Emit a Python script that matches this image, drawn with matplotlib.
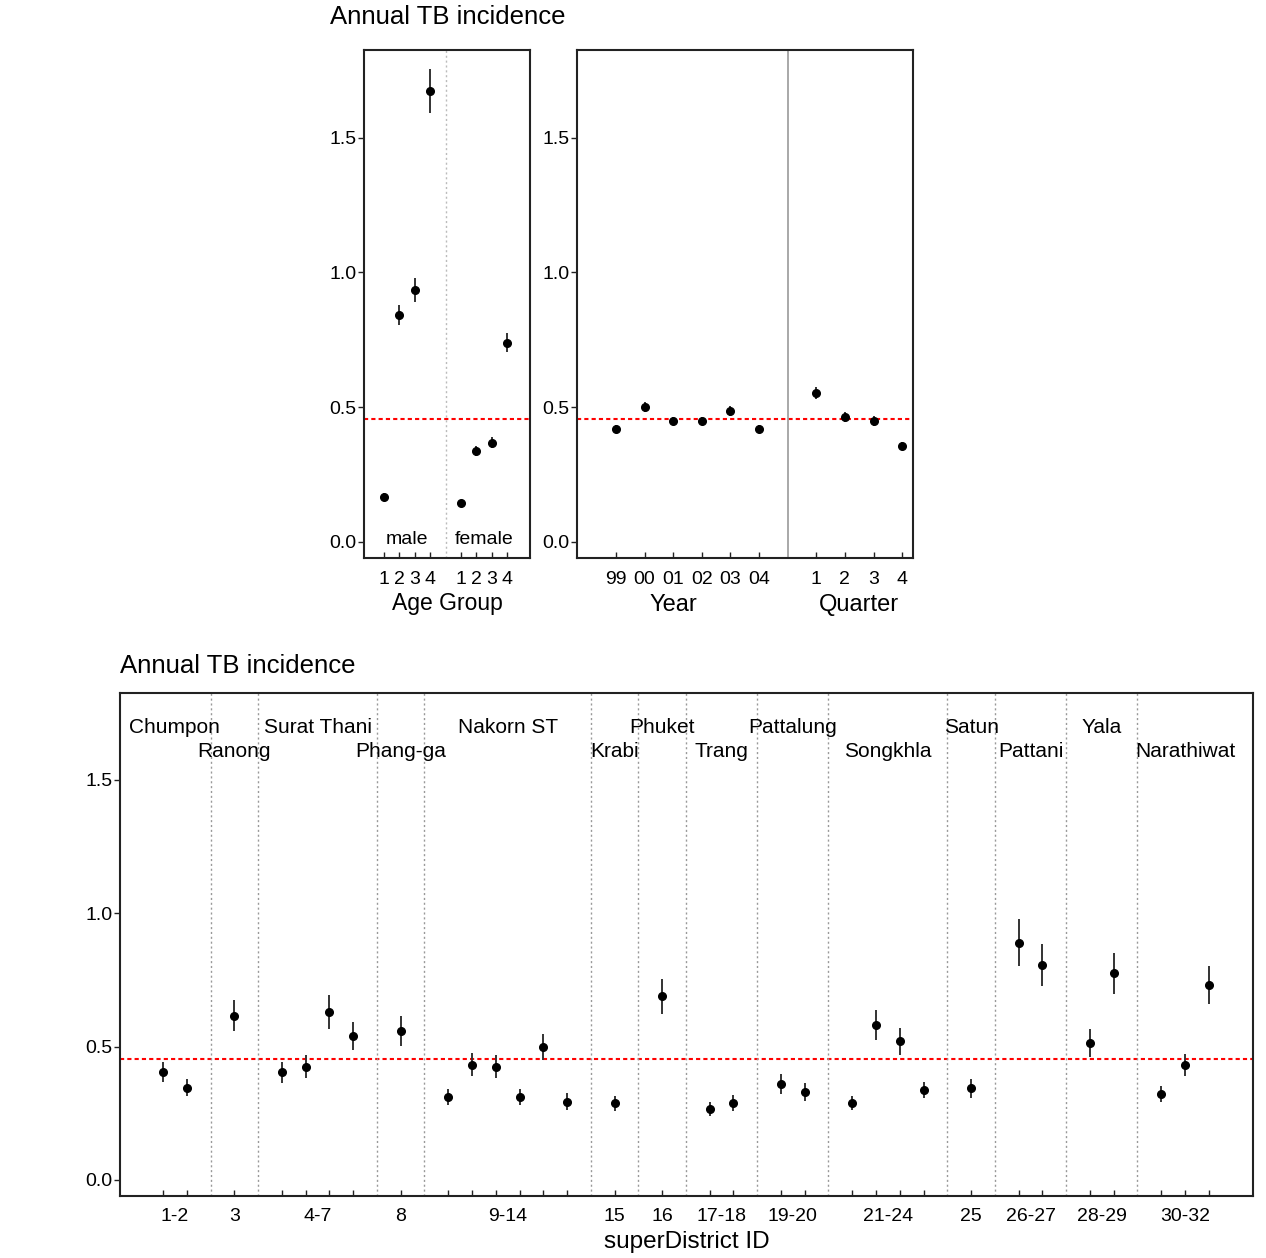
import numpy as np
import matplotlib.pyplot as plt
from matplotlib.transforms import blended_transform_factory

plt.rcParams['font.family'] = ['Liberation Sans', 'DejaVu Sans']
plt.rcParams['font.size'] = 14

# overall incidence (per 1000 per year)
overall = 0.455

# age group by sex
age_labels = ['1', '2', '3', '4']
male_rate = [0.168, 0.843, 0.936, 1.672]
male_err = [0.012, 0.037, 0.045, 0.082]
female_rate = [0.145, 0.338, 0.368, 0.739]
female_err = [0.010, 0.018, 0.020, 0.035]

# year and quarter
years = ['99', '00', '01', '02', '03', '04']
year_rate = [0.418, 0.500, 0.449, 0.449, 0.486, 0.418]
year_err = [0.015, 0.018, 0.016, 0.016, 0.018, 0.015]
quarters = ['1', '2', '3', '4']
quarter_rate = [0.552, 0.463, 0.449, 0.356]
quarter_err = [0.022, 0.018, 0.018, 0.014]

# super districts grouped by province
provinces = ['Chumpon', 'Ranong', 'Surat Thani', 'Phang-ga', 'Nakorn ST',
             'Krabi', 'Phuket', 'Trang', 'Pattalung', 'Songkhla', 'Satun',
             'Pattani', 'Yala', 'Narathiwat']
province_ids = ['1-2', '3', '4-7', '8', '9-14', '15', '16', '17-18',
                '19-20', '21-24', '25', '26-27', '28-29', '30-32']
province_size = [2, 1, 4, 1, 6, 1, 1, 2, 2, 4, 1, 2, 2, 3]
district_rate = [0.405, 0.345, 0.616, 0.404, 0.425, 0.630, 0.540, 0.558,
                 0.310, 0.432, 0.425, 0.310, 0.498, 0.293, 0.287, 0.688,
                 0.267, 0.288, 0.360, 0.330, 0.288, 0.580, 0.520, 0.337,
                 0.344, 0.890, 0.805, 0.513, 0.774, 0.323, 0.432, 0.731]
district_err = [0.038, 0.032, 0.059, 0.040, 0.043, 0.063, 0.052, 0.057,
                0.030, 0.043, 0.043, 0.030, 0.049, 0.032, 0.027, 0.067,
                0.027, 0.030, 0.038, 0.035, 0.027, 0.057, 0.050, 0.031,
                0.035, 0.087, 0.079, 0.052, 0.078, 0.030, 0.042, 0.071]

YLIM = (-0.06, 1.825)
FRAME = '#222222'
LABEL_SIZE = 17
TITLE_SIZE = 18.5


def style_axes(ax):
    ax.set_ylim(*YLIM)
    ax.set_yticks([0, 0.5, 1.0, 1.5])
    ax.set_yticklabels(['0.0', '0.5', '1.0', '1.5'])
    for s in ax.spines.values():
        s.set_color(FRAME)
        s.set_linewidth(1.5)
    ax.tick_params(axis='y', direction='out', length=4.5, width=1, pad=1,
                   color=FRAME)
    ax.tick_params(axis='x', which='major', direction='in', length=4,
                   width=1, pad=9, color=FRAME)
    ax.axhline(overall, color='red', lw=1.5, ls=(0, (2, 1.5)), zorder=1)


def points(ax, x, y, e):
    ax.errorbar(x, y, yerr=e, fmt='o', color='black', ms=5.5,
                ecolor='#333333', elinewidth=1.4, capsize=0, zorder=3)


fig = plt.figure(figsize=(12.66, 12.58), dpi=100)

# ---- age group panel
ax1 = fig.add_axes([0.2875, 0.5564, 0.1311, 0.4038])
style_axes(ax1)
xm = np.arange(4)
xf = np.arange(4) + 5
points(ax1, xm, male_rate, male_err)
points(ax1, xf, female_rate, female_err)
ax1.axvline(4, color='#bbbbbb', lw=1, ls=(0, (1.5, 2)), zorder=1)
ax1.set_xlim(-1.3, 9.48)
ax1.set_xticks(np.concatenate([xm, xf]))
ax1.set_xticklabels(age_labels + age_labels)
ax1.text(xm.mean(), 0.01, 'male', ha='center', va='center')
ax1.text(xf.mean(), 0.01, 'female', ha='center', va='center')
ax1.text(0.5, -0.0886, 'Age Group', transform=ax1.transAxes,
         ha='center', va='center', fontsize=LABEL_SIZE - 0.5)

# ---- year / quarter panel
ax2 = fig.add_axes([0.4558, 0.5564, 0.2654, 0.4038])
style_axes(ax2)
xy = np.arange(len(years))
xq = np.arange(len(quarters)) + len(years) + 1
points(ax2, xy, year_rate, year_err)
points(ax2, xq, quarter_rate, quarter_err)
ax2.axvline(len(years), color='#999999', lw=1.2, zorder=1)
ax2.set_xlim(-1.36, 10.38)
ax2.set_xticks(np.concatenate([xy, xq]))
ax2.set_xticklabels(years + quarters)
tr2 = blended_transform_factory(ax2.transData, ax2.transAxes)
ax2.text(xy.mean() - 0.5, -0.0925, 'Year', transform=tr2,
         ha='center', va='center', fontsize=LABEL_SIZE)
ax2.text(xq.mean(), -0.0925, 'Quarter', transform=tr2,
         ha='center', va='center', fontsize=LABEL_SIZE)

fig.text(330 / 1266, 1 - 17 / 1258, 'Annual TB incidence',
         ha='left', va='center', fontsize=TITLE_SIZE)

# ---- super district panel
ax3 = fig.add_axes([0.0948, 0.0493, 0.8949, 0.3998])
style_axes(ax3)

xd = []
centers = []
seps = []
slot = 0
for n in province_size:
    xs = list(range(slot, slot + n))
    xd += xs
    centers.append(np.mean(xs))
    slot += n
    seps.append(slot)
    slot += 1
seps = seps[:-1]

points(ax3, xd, district_rate, district_err)
for s in seps:
    ax3.axvline(s, color='#999999', lw=1, ls=(0, (1.5, 2)), zorder=1)

ax3.set_xlim(-1.81, 45.86)
ax3.xaxis.remove_overlapping_locs = False
ax3.set_xticks(xd)
ax3.set_xticklabels([])
ax3.set_xticks(centers, minor=True)
ax3.set_xticklabels(province_ids, minor=True)
ax3.tick_params(axis='x', which='minor', length=0, pad=9)

tr3 = blended_transform_factory(ax3.transData, ax3.transAxes)
for i, (c, name) in enumerate(zip(centers, provinces)):
    yy = 0.932 if i % 2 == 0 else 0.883
    ax3.text(c, yy, name, transform=tr3, ha='center', va='center',
             fontsize=15)

ax3.text(0.5, -0.0915, 'superDistrict ID', transform=ax3.transAxes,
         ha='center', va='center', fontsize=LABEL_SIZE + 0.5)
fig.text(120 / 1266, 1 - 666 / 1258, 'Annual TB incidence',
         ha='left', va='center', fontsize=TITLE_SIZE)

fig.savefig('out.png', dpi=100)
